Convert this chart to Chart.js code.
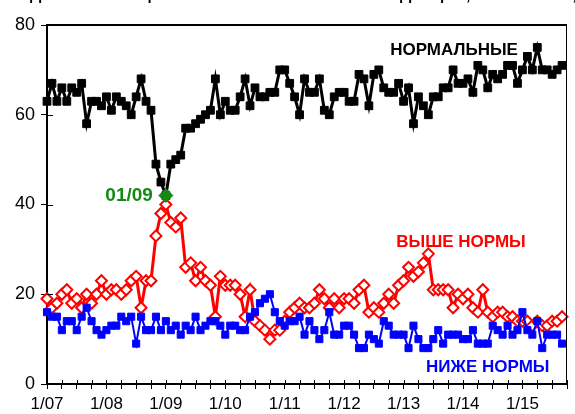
<!DOCTYPE html>
<html>
<head>
<meta charset="utf-8">
<script src="https://cdn.jsdelivr.net/npm/chart.js@4"></script>
<style>
  body { margin: 0; background: #fff; }
</style>
</head>
<body>
<canvas id="chart" width="575" height="414"></canvas>
<script>
// month labels Jan 2007 .. Oct 2015, tick labels only on January
const years = ["07", "08", "09", "10", "11", "12", "13", "14", "15"];
const tickLabels = ["1/07", "1/08", "1/09", "1/10", "1/11", "1/12", "1/13", "1/14", "1/15"];
const months = [];
years.forEach(y => { for (let m = 1; m <= 12; m++) months.push(m + "/" + y); });
months.length = 106;

// НОРМАЛЬНЫЕ
const normal = [
  63, 67, 63, 66, 63, 66, 65, 67, 58, 63, 63, 62,
  64, 61, 64, 63, 62, 60, 64, 68, 63, 61, 49, 45,
  42, 49, 50, 51, 57, 57, 58, 59, 60, 61, 68, 60,
  63, 61, 61, 64, 68, 62, 66, 64, 64, 65, 65, 70,
  70, 67, 64, 60, 68, 65, 65, 68, 61, 60, 64, 65,
  65, 63, 63, 69, 68, 62, 69, 70, 66, 65, 65, 67,
  63, 66, 58, 64, 62, 60, 64, 64, 66, 66, 70, 67,
  67, 68, 65, 71, 70, 66, 69, 68, 69, 71, 71, 67,
  70, 73, 70, 75, 70, 70, 69, 70, 71
];
// ВЫШЕ НОРМЫ
const above = [
  19, 17, 18, 20, 21, 18, 19, 17, 20, 18, 20, 23,
  20, 21, 21, 20, 21, 23, 24, 17, 23, 23, 33, 38,
  40, 36, 35, 37, 26, 27, 23, 26, 23, 22, 15, 24,
  22, 22, 22, 20, 15, 21, 14, 13, 12, 10, 12, 12,
  14, 16, 17, 18, 17, 17, 18, 21, 19, 17, 19, 17,
  19, 19, 18, 21, 22, 16, 17, 16, 18, 20, 18, 22,
  23, 26, 24, 25, 27, 29, 21, 21, 21, 21, 17, 20,
  19, 20, 17, 16, 21, 16, 15, 16, 16, 15, 15, 14,
  14, 14, 13, 14, 13, 13, 14, 14, 15
];
// НИЖЕ НОРМЫ
const below = [
  16, 15, 15, 12, 14, 14, 12, 15, 17, 14, 12, 11,
  12, 13, 13, 15, 14, 15, 9, 15, 12, 12, 15, 12,
  14, 12, 13, 11, 13, 12, 15, 12, 13, 14, 14, 13,
  11, 13, 13, 12, 12, 15, 16, 18, 19, 20, 16, 14,
  13, 14, 14, 15, 11, 14, 12, 10, 12, 16, 11, 11,
  13, 13, 11, 8, 8, 11, 10, 9, 14, 13, 11, 11,
  11, 8, 13, 10, 8, 8, 10, 12, 9, 11, 11, 11,
  10, 10, 12, 9, 9, 9, 13, 12, 11, 13, 11, 12,
  16, 12, 11, 14, 8, 11, 11, 11, 9
];
const markIndex = 24; // 01/09

const green = "#138a13";
const font = "Liberation Sans, Arial, sans-serif";

const frame = {
  id: "frame",
  afterDraw(chart) {
    const { ctx, chartArea: a, scales } = chart;
    ctx.save();
    ctx.strokeStyle = "#000";
    ctx.lineWidth = 2;
    ctx.beginPath();
    ctx.moveTo(a.left, a.top);
    ctx.lineTo(a.right, a.top);
    ctx.stroke();
    ctx.lineWidth = 1;
    ctx.beginPath();
    ctx.moveTo(a.right - 0.5, a.top);
    ctx.lineTo(a.right - 0.5, a.bottom);
    ctx.stroke();
    // inner half of the crossing ticks
    ctx.beginPath();
    for (let i = 0; i < months.length; i += 3) {
      const x = Math.round(scales.x.getPixelForValue(i)) + 0.5;
      ctx.moveTo(x, a.bottom);
      ctx.lineTo(x, a.bottom - 4);
    }
    for (let v = 0; v <= 80; v += 20) {
      const y = Math.round(scales.y.getPixelForValue(v)) + 0.5;
      ctx.moveTo(a.left, y);
      ctx.lineTo(a.left + 6, y);
    }
    ctx.stroke();
    ctx.restore();
  }
};

const notes = {
  id: "notes",
  afterDatasetsDraw(chart) {
    const { ctx, scales: { x, y } } = chart;
    ctx.save();
    ctx.textBaseline = "middle";
    ctx.textAlign = "center";
    ctx.font = "bold 17px " + font;
    ctx.fillStyle = "#000";
    ctx.fillText("НОРМАЛЬНЫЕ", x.getPixelForValue(82.2), y.getPixelForValue(74.4));
    ctx.fillStyle = "#ff0000";
    ctx.fillText("ВЫШЕ НОРМЫ", x.getPixelForValue(83.6), y.getPixelForValue(31.6));
    ctx.fillStyle = "#0000ff";
    ctx.fillText("НИЖЕ НОРМЫ", x.getPixelForValue(89), y.getPixelForValue(3.8));
    ctx.fillStyle = green;
    ctx.textAlign = "right";
    ctx.font = "bold 19px " + font;
    ctx.fillText("01/09", x.getPixelForValue(markIndex) - 13, y.getPixelForValue(normal[markIndex]));
    // title, cut off at the top edge
    ctx.textAlign = "left";
    ctx.textBaseline = "bottom";
    ctx.fillStyle = "#000";
    ctx.font = "bold 16px " + font;
    ctx.fillText("ДИНАМИКА ОЦЕНОК ЗАПАСОВ ГОТОВОЙ ПРОДУКЦИИ, 2007-2015 гг., %", 30, 4);
    ctx.restore();
  }
};

new Chart(document.getElementById("chart"), {
  type: "line",
  data: {
    labels: months,
    datasets: [
      {
        label: "01/09",
        data: normal.map((v, i) => (i === markIndex ? v : null)),
        showLine: false,
        pointStyle: "rectRot",
        pointRadius: 7,
        pointBorderWidth: 1,
        backgroundColor: green,
        borderColor: green,
        order: 0
      },
      {
        label: "НОРМАЛЬНЫЕ",
        data: normal,
        borderColor: "#000",
        backgroundColor: "#000",
        borderWidth: 3,
        pointStyle: "rect",
        pointRadius: 5.5,
        pointBorderWidth: 1,
        order: 1
      },
      {
        label: "НИЖЕ НОРМЫ",
        data: below,
        borderColor: "#0000ff",
        backgroundColor: "#0000ff",
        borderWidth: 2,
        pointStyle: "rect",
        pointRadius: 5,
        pointBorderWidth: 1,
        order: 2
      },
      {
        label: "ВЫШЕ НОРМЫ",
        data: above,
        borderColor: "#ff0000",
        backgroundColor: "#ffffff",
        borderWidth: 3,
        pointStyle: "rectRot",
        pointRadius: 5.5,
        pointBorderWidth: 2,
        order: 3
      }
    ]
  },
  options: {
    responsive: false,
    animation: false,
    layout: { padding: { top: 25, right: 1, left: 0, bottom: 0 } },
    plugins: { legend: { display: false }, tooltip: { enabled: false } },
    scales: {
      x: {
        grid: {
          drawOnChartArea: false,
          tickLength: 5,
          color: c => (c.index % 3 === 0 ? "#000" : "transparent")
        },
        border: { color: "#000", width: 2 },
        ticks: {
          autoSkip: false,
          maxRotation: 0,
          padding: 5,
          color: "#000",
          font: { size: 17, family: font },
          callback: (v, i) => (i % 12 === 0 ? tickLabels[i / 12] : "")
        },
        afterFit: s => { s.height = 30; }
      },
      y: {
        min: 0,
        max: 80,
        grid: { drawOnChartArea: false, tickLength: 6, color: "#000" },
        border: { color: "#000", width: 2 },
        ticks: {
          stepSize: 20,
          padding: 6,
          color: "#000",
          font: { size: 18, family: font }
        },
        afterFit: s => { s.width = 47; }
      }
    }
  },
  plugins: [frame, notes]
});
</script>
</body>
</html>
